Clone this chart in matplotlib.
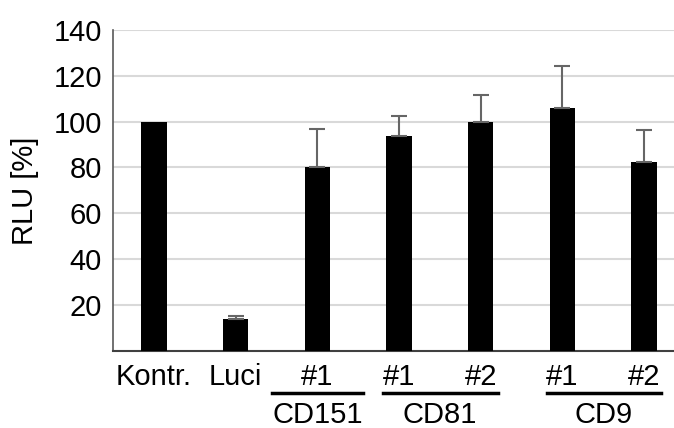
import numpy as np
import matplotlib
matplotlib.use("Agg")
import matplotlib.pyplot as plt
import matplotlib.transforms as mtransforms

labels = ["Kontr.", "Luci", "#1", "#1", "#2", "#1", "#2"]
values = [100, 13.9, 80.3, 93.7, 100, 106, 82.4]
err_up = [0, 1.4, 16.6, 8.7, 11.6, 18.1, 14.1]
groups = ["CD151", "CD81", "CD9"]
group_spans = [(1.45, 2.56), (2.80, 4.21), (4.81, 6.21)]
group_centers = [2.0, 3.5, 5.5]

plt.rcParams["font.family"] = ["Liberation Sans", "DejaVu Sans"]

fig = plt.figure(figsize=(6.74, 4.28), dpi=100)
ax = fig.add_axes([113 / 674, 1 - 350.8 / 428, 1 - 113 / 674, 320.8 / 428])

x = np.arange(len(values))
lower = np.zeros(len(values))
ax.bar(x, values, width=0.31, color="black", zorder=3)
ax.errorbar(x[1:], values[1:], yerr=[lower[1:], err_up[1:]], fmt="none",
            ecolor="#666666", elinewidth=1.5, capsize=6, capthick=1.5, zorder=4)

ax.set_xlim(-0.5, 6.366)
ax.set_ylim(0, 140)
ax.set_yticks([20, 40, 60, 80, 100, 120, 140])
ax.set_xticks(x)
ax.set_xticklabels(labels)
ax.tick_params(axis="both", length=0, labelsize=21)
ax.tick_params(axis="y", pad=8)
ax.tick_params(axis="x", pad=9)
ax.yaxis.grid(True, color="#d9d9d9", linewidth=1.5, zorder=0)
ax.set_axisbelow(True)

for s in ["top", "right"]:
    ax.spines[s].set_visible(False)
ax.spines["left"].set_color("#595959")
ax.spines["bottom"].set_color("#404040")
ax.spines["left"].set_linewidth(1.2)
ax.spines["bottom"].set_linewidth(1.5)

ax.set_ylabel("RLU [%]", fontsize=21, labelpad=10)

trans = mtransforms.blended_transform_factory(ax.transData, ax.transAxes)
for name, (a, b), c in zip(groups, group_spans, group_centers):
    ax.plot([a, b], [-0.1306, -0.1306], color="black", linewidth=2.5,
            transform=trans, clip_on=False)
    ax.text(c, -0.20, name, transform=trans, ha="center", va="center", fontsize=21)

fig.savefig("out.png", dpi=100)
